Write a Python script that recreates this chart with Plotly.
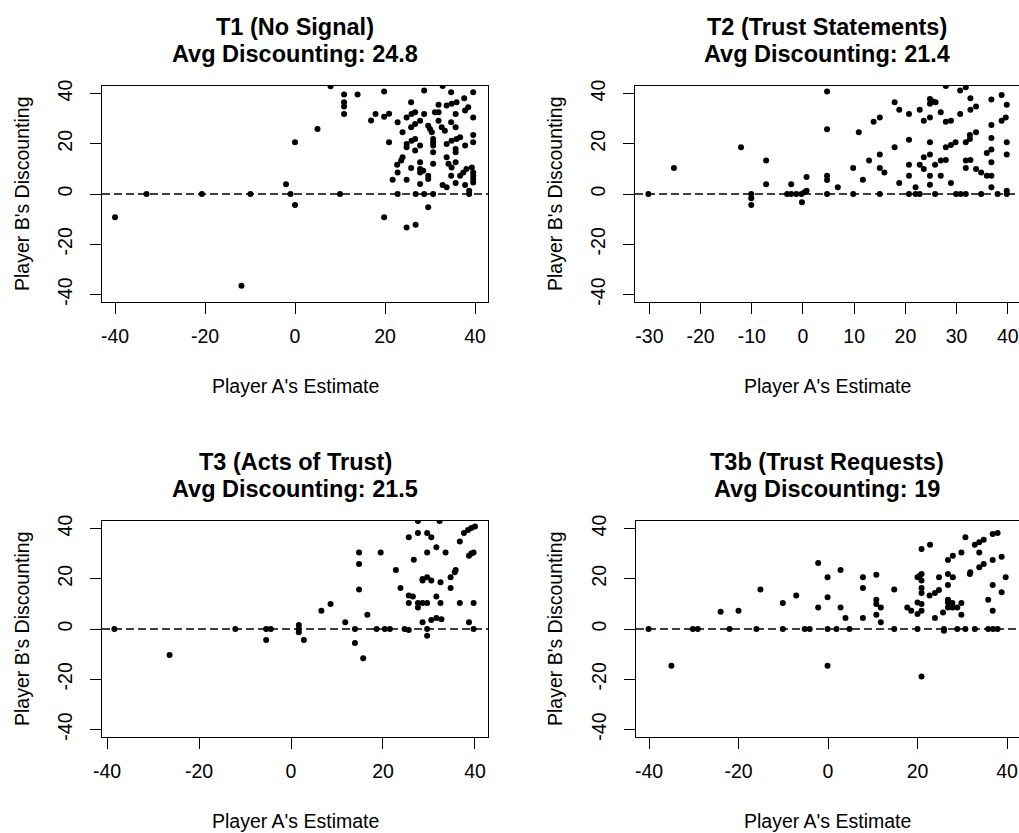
import plotly.graph_objects as go

# ---------------- data ----------------
t1_x = [-40, -33, -20.7, -9.9, -11.9, -2, -1, 0, 0, 5, 7.9, 10.9, 10.9, 10.9, 10.9, 10, 13.9,
        16.9, 17.9, 19.8, 19.8, 20.9, 20.9, 19.8, 21.7, 22.8, 22.8, 22.8, 22.7, 23.9, 23.6, 23.9,
        24.8, 24.8, 24.8, 24.8, 25.8, 25.8, 24.8, 25.9, 26.7, 25.8, 26.7, 27.8, 26.7, 25.9, 26.7,
        27.8, 26.8, 26.8, 27.8, 27.8, 27.8, 28.5, 27.8, 28.7, 28.7, 28.7, 29.6, 29.6, 29.6, 29.6,
        30, 30.4, 30.7, 30.7, 30.7, 30.7, 30.7, 30.7, 31.1, 31.9, 31.9, 31.9, 32.6, 33.3, 32.8,
        33.7, 32.8, 33.7, 34.1, 34.8, 33.7, 34.8, 35.9, 34.7, 34.7, 35.7, 35.7, 34.7, 33.7, 34.8,
        35.9, 36.7, 35.7, 35.7, 35.7, 35.7, 36.7, 37.4, 38.1, 39.3, 37.6, 37.8, 38.5, 37.8, 37.8,
        38.7, 38.7, 39.6, 39.6, 39.6, 39.6, 39.6, 39.6, 39.6, 39.6]
t1_y = [-9.3, 0, 0, 0, -36.5, 3.9, 0, -4.4, 20.6, 25.9, 42.9, 39.6, 36.5, 34.8, 31.9, 0, 39.6,
        29.3, 31.9, 40.8, 30.8, 32, 20.6, -9.3, 5.7, 28.6, 0, 8.6, 11.6, 14.6, 13.3, 24.6,
        5.7, 18.6, 19.9, -13.3, 36.5, 10.4, 30.5, 31.9, 32.5, 26.6, 27.9, 29.2, 21.9, 21.2, 17.3,
        19.3, -12.2, 0, 4, 12.6, 10, 9.3, 8.6, 41.2, 31.9, 0, -5.3, 7.3, 6, 27.2,
        25.9, 24.6, 20.6, 19.3, 21.9, 16.6, 12, 0, 32.5, 32.5, 35.5, 29.2, 26.6, 25.2, 3.6,
        2.7, 43, 14.6, 12, 10.6, 35.2, 35.9, 36.5, 40.5, 28.6, 31.9, 26.6, 7.3, 19.9, 21.2,
        21.9, 22.6, 17.9, 16.6, 12.6, 4.4, 7.3, 8.6, 10, 10.6, 38.1, 33.2, 34.5, 19.3, 3.6,
        1.3, 0, 40.5, 30.5, 23.5, 20.6, 8.6, 7.3, 6, 4.6]

t2_x = [-30.2, -25.2, -12.1, -10.1, -10.1, -10.1, -7.2, -7.2, -3.1, -2.3, -1.3, -2.3, -0.2, -0.3,
        0.3, 0.7, 0.7, 4.7, 4.7, 4.7, 4.7, 4.7, 6.8, 9.8, 9.8, 10.9, 11.7, 12.9, 13.8, 15, 15,
        15, 15.9, 15, 17.9, 18.8, 17.9, 18.8, 20.7, 20.7, 20.7, 20.7, 20.7, 22, 22, 22.8, 22.8,
        22.8, 23.6, 24.8, 23.6, 23.6, 24.8, 24.8, 25.4, 25.9, 24.8, 24.8, 24.8, 24.8, 25.8, 25.8,
        26.9, 26.9, 27.9, 26.9, 27.9, 27.9, 28.9, 27.9, 28.9, 29.8, 28.9, 29.9, 30.8, 31.8, 30.7,
        31.8, 30.7, 31.8, 32.6, 32.6, 31.8, 32.7, 31.8, 32.7, 32.7, 33.8, 33.8, 33.8, 34.8, 34.8,
        35.9, 36.8, 35.9, 36.8, 36.8, 36.8, 36.8, 36.8, 36.8, 38, 38.8, 38.8, 39.6, 39.8, 39.8,
        39.8, 39.8, 39.8]
t2_y = [0, 10.4, 18.6, 0, -1.7, -4.4, 13.3, 3.9, 0, 0, 0, 3.9, -3.3, 0,
        0.7, 1.3, 6.8, 40.8, 25.8, 7.3, 5.6, 0, 2.7, 0, 10.4, 24.6, 5.7, 13.3, 28.8, 30.5, 15.7,
        10.4, 8.6, 0, 36.5, 33.5, 18.6, 4.4, 31.9, 21.6, 11.6, 7.3, 0, 2.7, 0, 0, 33.5,
        11.6, 29.2, 30.5, 14.6, 10, 37.8, 35.9, 36.8, 36.5, 20.6, 15.7, 7.3, 3.7, 0, 11.6,
        32.5, 13.3, 13.5, 7.3, 43, 28.8, 29.2, 18.6, 19.5, 20.6, 4.4, 0, 0, 0, 41.2,
        42.5, 31.9, 20.6, 21.9, 23.5, 13.3, 13.5, 10.4, 38.1, 33.5, 34.8, 24.6, 10, 8.6, 0,
        7.3, 7.3, 16.3, 17.7, 37.6, 27.5, 22.3, 12.6, 2.7, 0, 39.4, 29.2, 30.5, 35.5, 20.6,
        15.7, 1.3, 0]

t3_x = [-38.4, -26.4, -12.1, -5.4, -4.4, -5.4, 1.7, 1.7, 1.7, 2.8, 6.6, 8.6, 11.8, 13.9, 13.9,
        14.8, 14.8, 14.8, 15.7, 16.6, 18.6, 19.5, 20.4, 21.5, 22.8, 23.8, 24.7, 25.6, 25.6, 25.6,
        26.5, 25.6, 26.7, 27.6, 27.6, 27.6, 27.6, 28.6, 28.6, 28.6, 28.6, 29.6, 29.6, 29.6, 30.5,
        29.6, 29.6, 29.6, 30.5, 30.5, 31.6, 32.7, 31.6, 31.6, 32.3, 32.5, 32.5, 33.6, 34.7, 35.6,
        35.8, 34.7, 36.7, 36.7, 37.6, 38.5, 39.2, 40, 38.7, 39.2, 39.7, 38.7, 39.7, 39.7]
t3_y = [0, -10.4, 0, 0, 0, -4.4, 1.6, 0, -1.3, -4.4, 7.3, 10, 2.7, 0, -5.6,
        30.5, 25.9, 15.7, -11.6, 5.7, 0, 30.5, 0, 0, 23.5, 16.3, 0, -0.4, 36.5, 13.3,
        12.9, 10.4, 27.6, 43, 38.2, 10.4, 8.6, 19.9, 19.3, 10.4, 2.7, 38.2, 30.5, 20.6, 19.3,
        10.4, 0, -2.7, 36.5, 3.6, 4.4, 3.9, 32.5, 12.9, 43, 18.6, 10.4, 30.5, 20.6, 22.6,
        23.5, 16.3, 34.8, 10.4, 38.2, 39.4, 40.2, 40.8, 29.2, 30.1, 30.5, 2.7, 10.4, 0]

t4_x = [-40.1, -35, -30.2, -29.1, -24, -22, -20, -16, -15.1, -10.1, -10.1, -7.1, -5.2, -4.1,
        -2.2, -2.2, -0.1, -0.1, -0.1, -0.1, 1.9, 2.8, 2.8, 3.9, 4.8, 7.8, 7.8, 7.8, 10.8, 10.8,
        10.8, 11.8, 10.8, 11.8, 14.8, 14.8, 17.7, 18.6, 20, 20.5, 20.9, 20, 20.9, 20, 20, 20.9,
        20.9, 20.9, 20.9, 20.9, 20.9, 22.8, 22.7, 23.9, 24.8, 23.9, 24.8, 25.7, 25.9, 25.9, 26.8,
        27.9, 26.8, 27.9, 26.8, 26.8, 26.8, 27.8, 26.8, 27.8, 28.9, 28.9, 29.8, 29.8, 29.8, 30.7,
        30.7, 32.8, 31.7, 31.8, 32.8, 33.8, 34.8, 33.8, 33.8, 34.8, 35.8, 35.8, 36.9, 37.9, 36.8,
        37.9, 36.8, 36.8, 36.8, 38.8, 38.8, 39.7]
t4_y = [0, -14.6, 0, 0, 6.9, 0, 7.3, 0, 15.7, 10.4, 0, 13.3, 0, 0,
        26.3, 8.6, 20.6, 12.6, 0, -14.6, 0, 23.5, 8.6, 4.4, 0, 20.6, 16.3, 4.4, 21.6, 11.6,
        10, 8.6, 5.7, 2.7, 15.7, 0, 8.6, 7.3, 20.6, 21.2, 21.9, 10.6, 10, 6, 0, 31.9,
        19.3, 16.3, 14.3, 7.3, -18.9, 33.5, 13.3, 14.3, 15.5, 4.4, 20.6, 6.6, 0, -0.7, 27.5,
        29.2, 21.9, 20.6, 17.5, 11.6, 10.6, 10.4, 8.6, 8.6, 8.6, 0, 30.5, 10.4, 5.7, 36.5,
        0, 0, 21.9, 22.6, 33.5, 34.5, 35.5, 30.5, 24.6, 25.9, 11.6, 0, 0, 0, 37.8,
        38.2, 27.5, 17.5, 7.3, 28.8, 14.6, 20.6]

panel_titles = ["T1 (No Signal)", "T2 (Trust Statements)", "T3 (Acts of Trust)", "T3b (Trust Requests)"]
avg_discounting = ["24.8", "21.4", "21.5", "19"]
x_label = "Player A's Estimate"
y_label = "Player B's Discounting"
x_ticks = [[-40, -20, 0, 20, 40], [-30, -20, -10, 0, 10, 20, 30, 40],
           [-40, -20, 0, 20, 40], [-40, -20, 0, 20, 40]]
y_ticks = [-40, -20, 0, 20, 40]

# ---------------- layout geometry ----------------
W, H = 1019, 833
FONT = "Liberation Sans, Arial, sans-serif"
xs = [t1_x, t2_x, t3_x, t4_x]
ys = [t1_y, t2_y, t3_y, t4_y]

x_domains = [[102 / W, 488 / W], [635 / W, 1.0], [102 / W, 488 / W], [636 / W, 1.0]]
y_domains = [[1 - 302 / H, 1 - 86 / H]] * 2 + [[1 - 737 / H, 1 - 521 / H]] * 2
x_ranges = [[-42.89, 42.89], [-32.81, 42.19], [-41.09, 42.83], [-42.91, 42.68]]
y_range = [-43.0, 43.0]


def hyphen_labels(vals):
    return [str(v) for v in vals]


fig = go.Figure()
layout = dict(template="none", width=W, height=H, margin=dict(l=0, r=0, t=0, b=0, pad=0),
              paper_bgcolor="white", plot_bgcolor="white", showlegend=False,
              font=dict(family=FONT, color="black", size=19.5))
annotations = []
shapes = []

for i in range(4):
    n = "" if i == 0 else str(i + 1)
    fig.add_trace(go.Scatter(x=xs[i], y=ys[i], mode="markers", xaxis="x" + n, yaxis="y" + n,
                             marker=dict(color="black", size=6, line=dict(width=0)),
                             cliponaxis=True, hoverinfo="x+y"))
    layout["xaxis" + n] = dict(domain=x_domains[i], range=x_ranges[i], anchor="y" + n,
                               tickmode="array", tickvals=x_ticks[i],
                               ticktext=hyphen_labels(x_ticks[i]),
                               ticks="outside", ticklen=11, tickwidth=1,
                               tickcolor="black", showline=True, linecolor="black", linewidth=1,
                               mirror=True, showgrid=False, zeroline=False, automargin=False,
                               ticklabelstandoff=6,
                               tickfont=dict(family=FONT, size=19.5, color="black"))
    layout["yaxis" + n] = dict(domain=y_domains[i], range=y_range, anchor="x" + n,
                               tickmode="array", tickvals=y_ticks,
                               ticktext=hyphen_labels(y_ticks),
                               ticks="outside", ticklen=11, tickwidth=1,
                               tickcolor="black", showline=True, linecolor="black", linewidth=1,
                               mirror=(i % 2 == 0), showgrid=False, zeroline=False,
                               automargin=False, tickangle=-90, ticklabelstandoff=10,
                               tickfont=dict(family=FONT, size=19.5, color="black"))
    shapes.append(dict(type="line", xref="x" + n + " domain", yref="y" + n, x0=0, x1=1,
                       y0=0, y1=0, line=dict(color="black", width=1.3, dash="8px,4px")))

    cx = 295 if i % 2 == 0 else 827
    dy = 0 if i < 2 else 435
    for txt, py in [(panel_titles[i], 27), ("Avg Discounting: " + avg_discounting[i], 53.5)]:
        annotations.append(dict(text="<b>" + txt + "</b>", xref="paper", yref="paper",
                                x=cx / W, y=1 - (py + dy) / H, xanchor="center", yanchor="middle",
                                showarrow=False, font=dict(family=FONT, size=23.5, color="black")))
    annotations.append(dict(text=x_label, xref="paper", yref="paper", x=cx / W,
                            y=1 - (386 + dy) / H, xanchor="center", yanchor="middle",
                            showarrow=False, font=dict(family=FONT, size=19.5, color="black")))
    lx = 22 if i % 2 == 0 else 555
    annotations.append(dict(text=y_label, xref="paper", yref="paper", x=lx / W,
                            y=1 - (194 + dy) / H, xanchor="center", yanchor="middle",
                            textangle=-90, showarrow=False,
                            font=dict(family=FONT, size=19.5, color="black")))

layout["annotations"] = annotations
layout["shapes"] = shapes
fig.update_layout(**layout)
fig.write_html("out.html")
